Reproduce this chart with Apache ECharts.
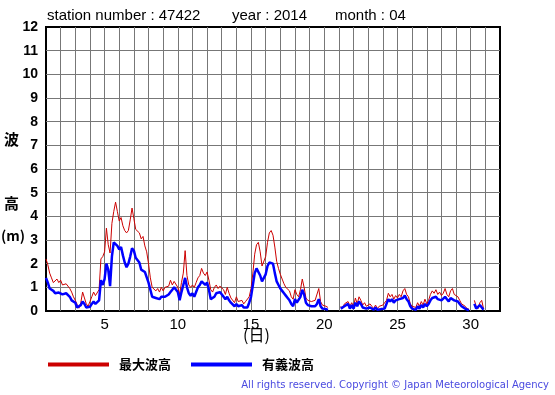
<!DOCTYPE html>
<html>
<head>
<meta charset="utf-8">
<script src="https://cdn.jsdelivr.net/npm/echarts@6/dist/echarts.min.js"></script>
<style>
html,body{margin:0;padding:0;background:#fff;}
#c{width:555px;height:395px;}
</style>
</head>
<body>
<div id="c"></div>
<script>
// ---- data (3-hourly samples, day 1.000 .. 30.875) ----
const startDay = 1;
const stepDay = 0.125;
const xTickLabels = [5, 10, 15, 20, 25, 30];
const yTickLabels = [0,1,2,3,4,5,6,7,8,9,10,11,12];
const seriesNames = ['最大波高', '有義波高'];
const titleParts = ['station number : 47422', 'year : 2014', 'month : 04'];

const maxWave = [
  2.2,1.95,1.6,1.4,1.2,1.2,1.35,1.2,
  1.3,1.1,1.05,1.15,1.1,0.95,0.8,0.6,
  0.45,0.28,0.12,0.35,0.8,0.55,0.3,0.2,
  0.4,0.6,0.8,0.65,0.65,0.9,2.2,2.3,
  2.5,3.5,2.8,2.45,3.7,4.2,4.6,4.2,
  3.8,3.95,3.6,3.4,3.3,3.4,3.85,4.35,
  3.9,3.45,3.5,3.3,3.05,3.15,2.75,2.5,
  2.0,1.4,1.0,0.95,0.85,0.95,0.8,1.0,
  0.85,1.0,0.95,1.05,1.3,1.1,1.25,1.2,
  1.0,0.7,1.2,1.6,2.55,1.5,1.1,1.0,
  1.1,1.0,1.2,1.4,1.5,1.8,1.6,1.5,
  1.65,1.3,0.9,0.8,1.0,1.1,0.95,1.05,
  1.1,0.9,0.7,1.0,0.75,0.55,0.5,0.35,
  0.6,0.4,0.35,0.45,0.3,0.4,0.35,0.6,
  0.95,1.6,2.4,2.8,2.9,2.5,1.9,1.85,
  2.3,2.9,3.3,3.4,3.2,2.7,2.1,1.8,
  1.55,1.35,1.15,1.0,1.0,0.85,0.6,0.5,
  0.9,0.7,0.6,0.9,1.35,1.0,0.55,0.45,
  0.4,0.4,0.35,0.45,0.5,0.95,0.4,0.25,
  0.3,0.2,0.15,null,null,null,null,null,
  null,0.2,0.1,0.3,0.25,0.4,0.2,0.35,
  0.2,0.55,0.3,0.6,0.45,0.25,0.35,0.2,
  0.15,0.3,0.2,0.1,0.25,0.1,0.2,0.15,
  0.25,0.2,0.45,0.75,0.6,0.7,0.5,0.65,
  0.55,0.7,0.6,0.85,0.95,0.7,0.6,0.3,
  0.2,0.25,0.15,0.35,0.2,0.4,0.25,0.5,
  0.3,0.45,0.7,0.85,0.75,0.9,0.7,0.8,
  0.65,0.75,0.95,0.7,0.6,0.85,0.95,0.7,
  0.75,0.6,0.45,0.3,0.25,0.2,0.1,0.08,
  null,null,0.45,0.2,0.1,0.35,0.45,0.1
];

const sigWave = [
  1.4,1.2,0.95,0.92,0.85,0.75,0.8,0.78,
  0.75,0.7,0.7,0.75,0.7,0.6,0.45,0.42,
  0.35,0.15,0.1,0.25,0.4,0.3,0.15,0.1,
  0.18,0.3,0.4,0.3,0.35,0.45,1.3,1.1,
  1.35,2.0,1.75,1.05,2.3,2.9,2.95,2.75,
  2.6,2.7,2.35,2.05,1.85,2.0,2.3,2.65,
  2.55,2.25,2.3,2.05,1.75,1.8,1.65,1.6,
  1.2,0.9,0.6,0.65,0.55,0.6,0.5,0.6,
  0.55,0.6,0.65,0.7,0.8,0.9,1.0,0.95,
  0.8,0.45,0.8,1.1,1.4,1.0,0.75,0.65,
  0.75,0.6,0.8,1.0,1.1,1.25,1.2,1.1,
  1.2,0.9,0.5,0.45,0.6,0.75,0.7,0.8,
  0.75,0.6,0.5,0.6,0.45,0.35,0.3,0.2,
  0.3,0.2,0.15,0.25,0.15,0.2,0.15,0.35,
  0.6,1.1,1.6,1.8,1.8,1.5,1.25,1.3,
  1.55,1.9,2.05,2.1,2.0,1.6,1.25,1.1,
  0.95,0.85,0.75,0.65,0.55,0.45,0.3,0.2,
  0.5,0.35,0.3,0.6,0.9,0.7,0.35,0.25,
  0.2,0.2,0.15,0.2,0.3,0.5,0.2,0.1,
  0.15,0.08,0.05,null,null,null,null,null,
  null,0.1,0.05,0.2,0.15,0.3,0.1,0.25,
  0.1,0.35,0.2,0.4,0.3,0.15,0.2,0.1,
  0.08,0.15,0.1,0.05,0.15,0.05,0.1,0.08,
  0.15,0.1,0.3,0.5,0.4,0.5,0.35,0.45,
  0.4,0.5,0.45,0.55,0.65,0.5,0.4,0.2,
  0.1,0.15,0.05,0.2,0.1,0.25,0.15,0.3,
  0.2,0.3,0.45,0.55,0.5,0.6,0.5,0.55,
  0.45,0.5,0.6,0.5,0.4,0.55,0.5,0.45,
  0.45,0.4,0.3,0.2,0.15,0.1,0.05,0.03,
  null,null,0.3,0.1,0.05,0.25,0.3,0.05
];

function toPairs(arr){
  return arr.map((v,i)=>[startDay + i*stepDay, v]);
}

const LATIN = '"Liberation Sans", Arial, sans-serif';
const CJK = '"Noto Sans CJK JP", sans-serif';
const titleFont = '15px "Liberation Sans", Arial, sans-serif';

const chart = echarts.init(document.getElementById('c'), null, {renderer:'canvas'});
chart.setOption({
  animation: false,
  backgroundColor: '#fff',
  grid: {
    left: 46, right: 55, top: 27, bottom: 84,
    show: true, borderColor: '#000', borderWidth: 2, backgroundColor: '#fff'
  },
  legend: {
    left: 43, top: 353,
    icon: 'rect', itemWidth: 61, itemHeight: 4, itemGap: 20,
    data: seriesNames,
    textStyle: {fontFamily: CJK, fontSize: 13, fontWeight: 'bold', color: '#000', padding: [0,0,0,5]}
  },
  xAxis: {
    type: 'value', min: 1, max: 32, interval: 1,
    axisLine: {show: false}, axisTick: {show: false},
    axisLabel: {
      margin: 6, fontFamily: LATIN, fontSize: 15, color: '#000',
      formatter: v => xTickLabels.includes(v) ? String(v) : ''
    },
    splitLine: {show: true, showMinLine: false, showMaxLine: false, lineStyle: {color: '#777', width: 1}}
  },
  yAxis: {
    type: 'value', min: 0, max: 12, interval: 1,
    axisLine: {show: false}, axisTick: {show: false},
    axisLabel: {
      margin: 8, fontFamily: LATIN, fontSize: 14, fontWeight: 'bold', color: '#000',
      formatter: v => yTickLabels.includes(v) ? String(v) : ''
    },
    splitLine: {show: true, showMinLine: false, showMaxLine: false, lineStyle: {color: '#777', width: 1}}
  },
  graphic: [
    {type:'text', left: 47, top: 8, style:{text: titleParts[0], font: titleFont, fill:'#000'}},
    {type:'text', left: 232, top: 8, style:{text: titleParts[1], font: titleFont, fill:'#000'}},
    {type:'text', left: 335, top: 8, style:{text: titleParts[2], font: titleFont, fill:'#000'}},
    {type:'text', left: 4, top: 132, style:{text:'波', font:'bold 15px "Noto Sans CJK JP"', fill:'#000'}},
    {type:'text', left: 4, top: 196, style:{text:'高', font:'bold 15px "Noto Sans CJK JP"', fill:'#000'}},
    {type:'text', left: 1, top: 229, style:{text:'(m)', font:'bold 14px "Noto Sans CJK JP"', fill:'#000'}},
    {type:'text', left: 243, top: 327, style:{text:'(日)', font:'16px "Noto Sans CJK JP"', fill:'#000'}},
    {type:'text', right: 6, top: 380, style:{text:'All rights reserved. Copyright © Japan Meteorological Agency', font:'10px "DejaVu Sans", sans-serif', fill:'#4a4ae0'}}
  ],
  series: [
    {
      name: seriesNames[0], type: 'line', data: toPairs(maxWave),
      showSymbol: false, symbol: 'none', connectNulls: false,
      lineStyle: {color: '#cc0000', width: 1}, itemStyle: {color: '#cc0000'}, z: 2
    },
    {
      name: seriesNames[1], type: 'line', data: toPairs(sigWave),
      showSymbol: false, symbol: 'none', connectNulls: false,
      lineStyle: {color: '#0000ff', width: 2.5}, itemStyle: {color: '#0000ff'}, z: 3
    }
  ]
});
</script>
</body>
</html>
